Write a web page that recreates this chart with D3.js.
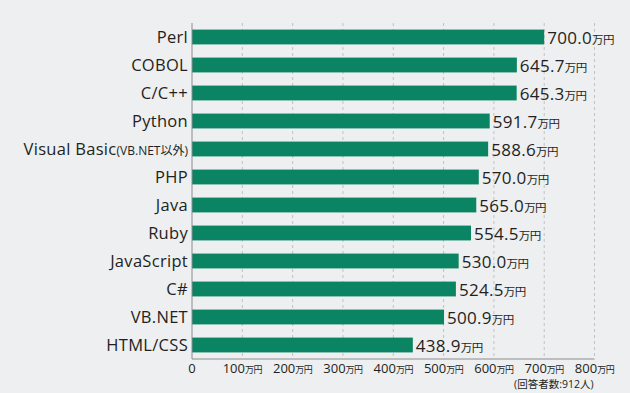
<!DOCTYPE html>
<html>
<head>
<meta charset="utf-8">
<script src="https://cdn.jsdelivr.net/npm/d3@7"></script>
<style>
  html, body { margin: 0; padding: 0; background: #eeeff1; }
  svg { display: block; font-family: "Open Sans", "Noto Sans CJK JP", sans-serif; }
</style>
</head>
<body>
<svg id="chart" width="630" height="393"></svg>
<script>
const languages = ['Perl', 'COBOL', 'C/C++', 'Python', 'Visual Basic', 'PHP', 'Java', 'Ruby', 'JavaScript', 'C#', 'VB.NET', 'HTML/CSS']
const salaries = [700.0, 645.7, 645.3, 591.7, 588.6, 570.0, 565.0, 554.5, 530.0, 524.5, 500.9, 438.9]
const tickValues = [0, 100, 200, 300, 400, 500, 600, 700, 800]
const unit = '万円'
const note = '(回答者数:912人)'

const svg = d3.select('#chart')
const plotLeft = 192, plotRight = 594.5, plotTop = 23, plotBottom = 359

const x = d3.scaleLinear().domain([0, 800]).range([plotLeft, plotRight])
const y = d3.scaleBand().domain(languages).range([plotTop, plotBottom]).paddingInner(0.47).paddingOuter(0.235)

// dashed grid
svg.append('g')
  .selectAll('line')
  .data(tickValues.slice(1))
  .join('line')
    .attr('x1', d => x(d)).attr('x2', d => x(d))
    .attr('y1', plotTop).attr('y2', plotBottom)
    .attr('stroke', '#b4b6b9')
    .attr('stroke-width', 0.8)
    .attr('stroke-dasharray', '3,3')

// bars
svg.append('g')
  .selectAll('rect')
  .data(languages)
  .join('rect')
    .attr('x', x(0))
    .attr('y', d => y(d))
    .attr('width', (d, i) => x(salaries[i]) - x(0))
    .attr('height', y.bandwidth())
    .attr('fill', '#0a8462')

// axis lines
svg.append('line')
  .attr('x1', plotLeft).attr('x2', plotLeft).attr('y1', plotTop).attr('y2', plotBottom)
  .attr('stroke', '#8a8c8f').attr('stroke-width', 1)
svg.append('line')
  .attr('x1', plotLeft).attr('x2', plotRight).attr('y1', plotBottom).attr('y2', plotBottom)
  .attr('stroke', '#8a8c8f').attr('stroke-width', 1)

// category labels
const cat = svg.append('g')
  .selectAll('text')
  .data(languages)
  .join('text')
    .attr('x', plotLeft - 4)
    .attr('y', d => y(d) + y.bandwidth() / 2)
    .attr('dy', '0.36em')
    .attr('text-anchor', 'end')
    .attr('font-size', 16.5)
    .attr('letter-spacing', 0.3)
    .attr('fill', '#231f20')
    .text(d => d)
cat.filter(d => d === 'Visual Basic')
  .append('tspan')
    .attr('font-size', 12)
    .attr('letter-spacing', 0)
    .text('(VB.NET以外)')

// value labels
const val = svg.append('g')
  .selectAll('text')
  .data(languages)
  .join('text')
    .attr('x', (d, i) => x(salaries[i]) + 3)
    .attr('y', d => y(d) + y.bandwidth() / 2)
    .attr('dy', '0.4em')
    .attr('font-size', 17)
    .attr('letter-spacing', 0.3)
    .attr('fill', '#231f20')
    .text((d, i) => salaries[i].toFixed(1))
val.append('tspan').attr('font-size', 11.5).attr('letter-spacing', -0.5).text(unit)

// tick labels
const ticks = svg.append('g')
  .selectAll('text')
  .data(tickValues)
  .join('text')
    .attr('x', d => x(d))
    .attr('y', plotBottom + 14)
    .attr('text-anchor', 'middle')
    .attr('font-size', 13)
    .attr('fill', '#231f20')
    .text(d => d)
ticks.filter(d => d > 0).append('tspan').attr('font-size', 9).attr('letter-spacing', -0.5).text(unit)

svg.append('text')
  .attr('x', plotRight - 1)
  .attr('y', plotBottom + 29)
  .attr('text-anchor', 'end')
  .attr('font-size', 10.5)
  .attr('fill', '#231f20')
  .text(note)
</script>
</body>
</html>
